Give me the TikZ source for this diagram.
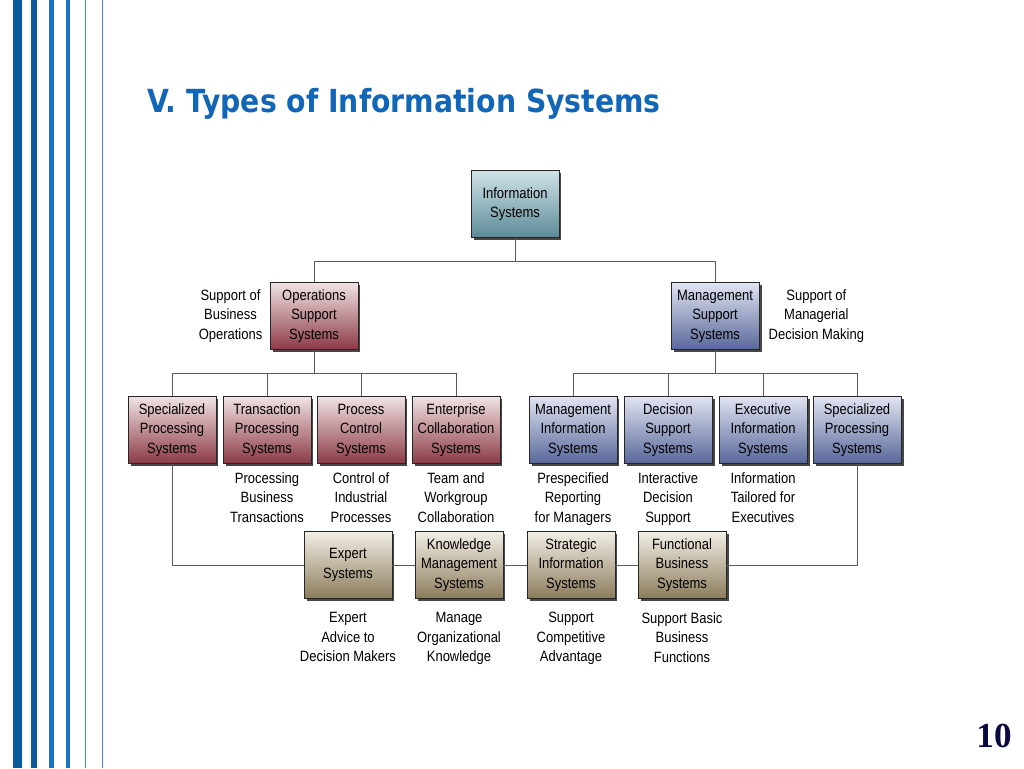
\documentclass[tikz,border=0pt]{standalone}
\usepackage{fontspec}
\setmainfont{Liberation Sans}[FakeStretch=0.87]
\newfontfamily\titlefont{DejaVu Sans}[FakeStretch=0.89]
\newfontfamily\numfont{Liberation Serif}
\usepackage{tikz}
\usetikzlibrary{shadows,positioning}
\definecolor{titleblue}{RGB}{18,102,184}
\definecolor{stripedark}{RGB}{12,90,158}
\definecolor{stripemid}{RGB}{27,115,200}
\definecolor{stripelight}{RGB}{60,143,224}
\definecolor{pagenavy}{RGB}{10,10,64}
\definecolor{tealtop}{RGB}{208,226,231}
\definecolor{tealbot}{RGB}{92,139,152}
\definecolor{redtop}{RGB}{240,226,227}
\definecolor{redbot}{RGB}{140,58,70}
\definecolor{bluetop}{RGB}{224,227,241}
\definecolor{bluebot}{RGB}{88,104,154}
\definecolor{tantop}{RGB}{242,238,229}
\definecolor{tanbot}{RGB}{140,124,92}
\newcommand\boxtext{\fontsize{8.5}{11.1}\selectfont}

\begin{document}
\begin{tikzpicture}[x=0.02cm, y=-0.02cm,
  sysbox/.style={draw=black!85, line width=0.4pt, minimum width=1.76cm, minimum height=1.33cm,
    inner sep=1pt, align=center, font=\boxtext,
    drop shadow={shadow xshift=0.05cm, shadow yshift=-0.05cm, fill=black!85, opacity=0.85}},
  rootbox/.style={sysbox, top color=tealtop, bottom color=tealbot},
  opsbox/.style={sysbox, top color=redtop, bottom color=redbot},
  mgmtbox/.style={sysbox, top color=bluetop, bottom color=bluebot},
  lowbox/.style={sysbox, top color=tantop, bottom color=tanbot},
  note/.style={align=center, font=\boxtext, inner sep=0pt},
  link/.style={draw=black!65, line width=0.5pt}]

  \useasboundingbox (0,0) rectangle (1024,768);

  % Stripes on the left
  \fill[stripedark] (13,0) rectangle (22,768);
  \fill[stripedark] (31,0) rectangle (37,768);
  \fill[stripemid] (49,0) rectangle (53.5,768);
  \fill[stripemid] (66,0) rectangle (70,768);
  \fill[stripelight] (84.5,0) rectangle (86,768);
  \fill[stripelight] (101.8,0) rectangle (103,768);

  % Title and page number
  \node[anchor=base west, inner sep=0pt, text=titleblue,
    font=\titlefont\bfseries\fontsize{18.1}{20}\selectfont] (title) at (147,112)
    {V. Types of Information Systems};
  \node[font=\numfont\bfseries\fontsize{20}{22}\selectfont, text=pagenavy] (pagenum) at (994,736) {10};

  % Nodes
  \node[rootbox] (root) at (515,204) {Information\\Systems};
  \node[opsbox] (ops) at (314,316) {Operations\\Support\\Systems};
  \node[mgmtbox] (mgmt) at (715,316) {Management\\Support\\Systems};
  \node[note, left=0.14cm of ops] (opsnote) {Support of\\Business\\Operations};
  \node[note, right=0.18cm of mgmt] (mgmtnote) {Support of\\Managerial\\Decision Making};

  \node[opsbox] (spsL) at (172,430) {Specialized\\Processing\\Systems};
  \node[opsbox] (tps) at (267,430) {Transaction\\Processing\\Systems};
  \node[opsbox] (pcs) at (361,430) {Process\\Control\\Systems};
  \node[opsbox] (ecs) at (456,430) {Enterprise\\Collaboration\\Systems};
  \node[mgmtbox] (mis) at (573,430) {Management\\Information\\Systems};
  \node[mgmtbox] (dss) at (668,430) {Decision\\Support\\Systems};
  \node[mgmtbox] (eis) at (763,430) {Executive\\Information\\Systems};
  \node[mgmtbox] (spsR) at (857,430) {Specialized\\Processing\\Systems};

  \node[note, below=0.17cm of tps] (tpsnote) {Processing\\Business\\Transactions};
  \node[note, below=0.17cm of pcs] (pcsnote) {Control of\\Industrial\\Processes};
  \node[note, below=0.17cm of ecs] (ecsnote) {Team and\\Workgroup\\Collaboration};
  \node[note, below=0.17cm of mis] (misnote) {Prespecified\\Reporting\\for Managers};
  \node[note, below=0.17cm of dss] (dssnote) {Interactive\\Decision\\Support};
  \node[note, below=0.17cm of eis] (eisnote) {Information\\Tailored for\\Executives};

  \node[lowbox] (es) at (348,565) {Expert\\Systems};
  \node[lowbox] (kms) at (459,565) {Knowledge\\Management\\Systems};
  \node[lowbox] (sis) at (571,565) {Strategic\\Information\\Systems};
  \node[lowbox] (fbs) at (682,565) {Functional\\Business\\Systems};

  \node[note, below=0.27cm of es] (esnote) {Expert\\Advice to\\Decision Makers};
  \node[note, below=0.27cm of kms] (kmsnote) {Manage\\Organizational\\Knowledge};
  \node[note, below=0.27cm of sis] (sisnote) {Support\\Competitive\\Advantage};
  \node[note, below=0.27cm of fbs] (fbsnote) {Support Basic\\Business\\Functions};

  % Edges
  \coordinate (rootbus) at (515,261);
  \coordinate (opsbus) at (314,373);
  \coordinate (mgmtbus) at (715,373);
  \draw[link] (root.south) -- (rootbus) -| (ops.north);
  \draw[link] (rootbus) -| (mgmt.north);
  \draw[link] (ops.south) -- (opsbus);
  \draw[link] (mgmt.south) -- (mgmtbus);
  \foreach \n in {spsL,tps,pcs,ecs}
    \draw[link] (opsbus) -| (\n.north);
  \foreach \n in {mis,dss,eis,spsR}
    \draw[link] (mgmtbus) -| (\n.north);
  \draw[link] (spsL.south) |- (es.west);
  \draw[link] (es.east) -- (kms.west);
  \draw[link] (kms.east) -- (sis.west);
  \draw[link] (sis.east) -- (fbs.west);
  \draw[link] (fbs.east) -| (spsR.south);

\end{tikzpicture}
\end{document}
